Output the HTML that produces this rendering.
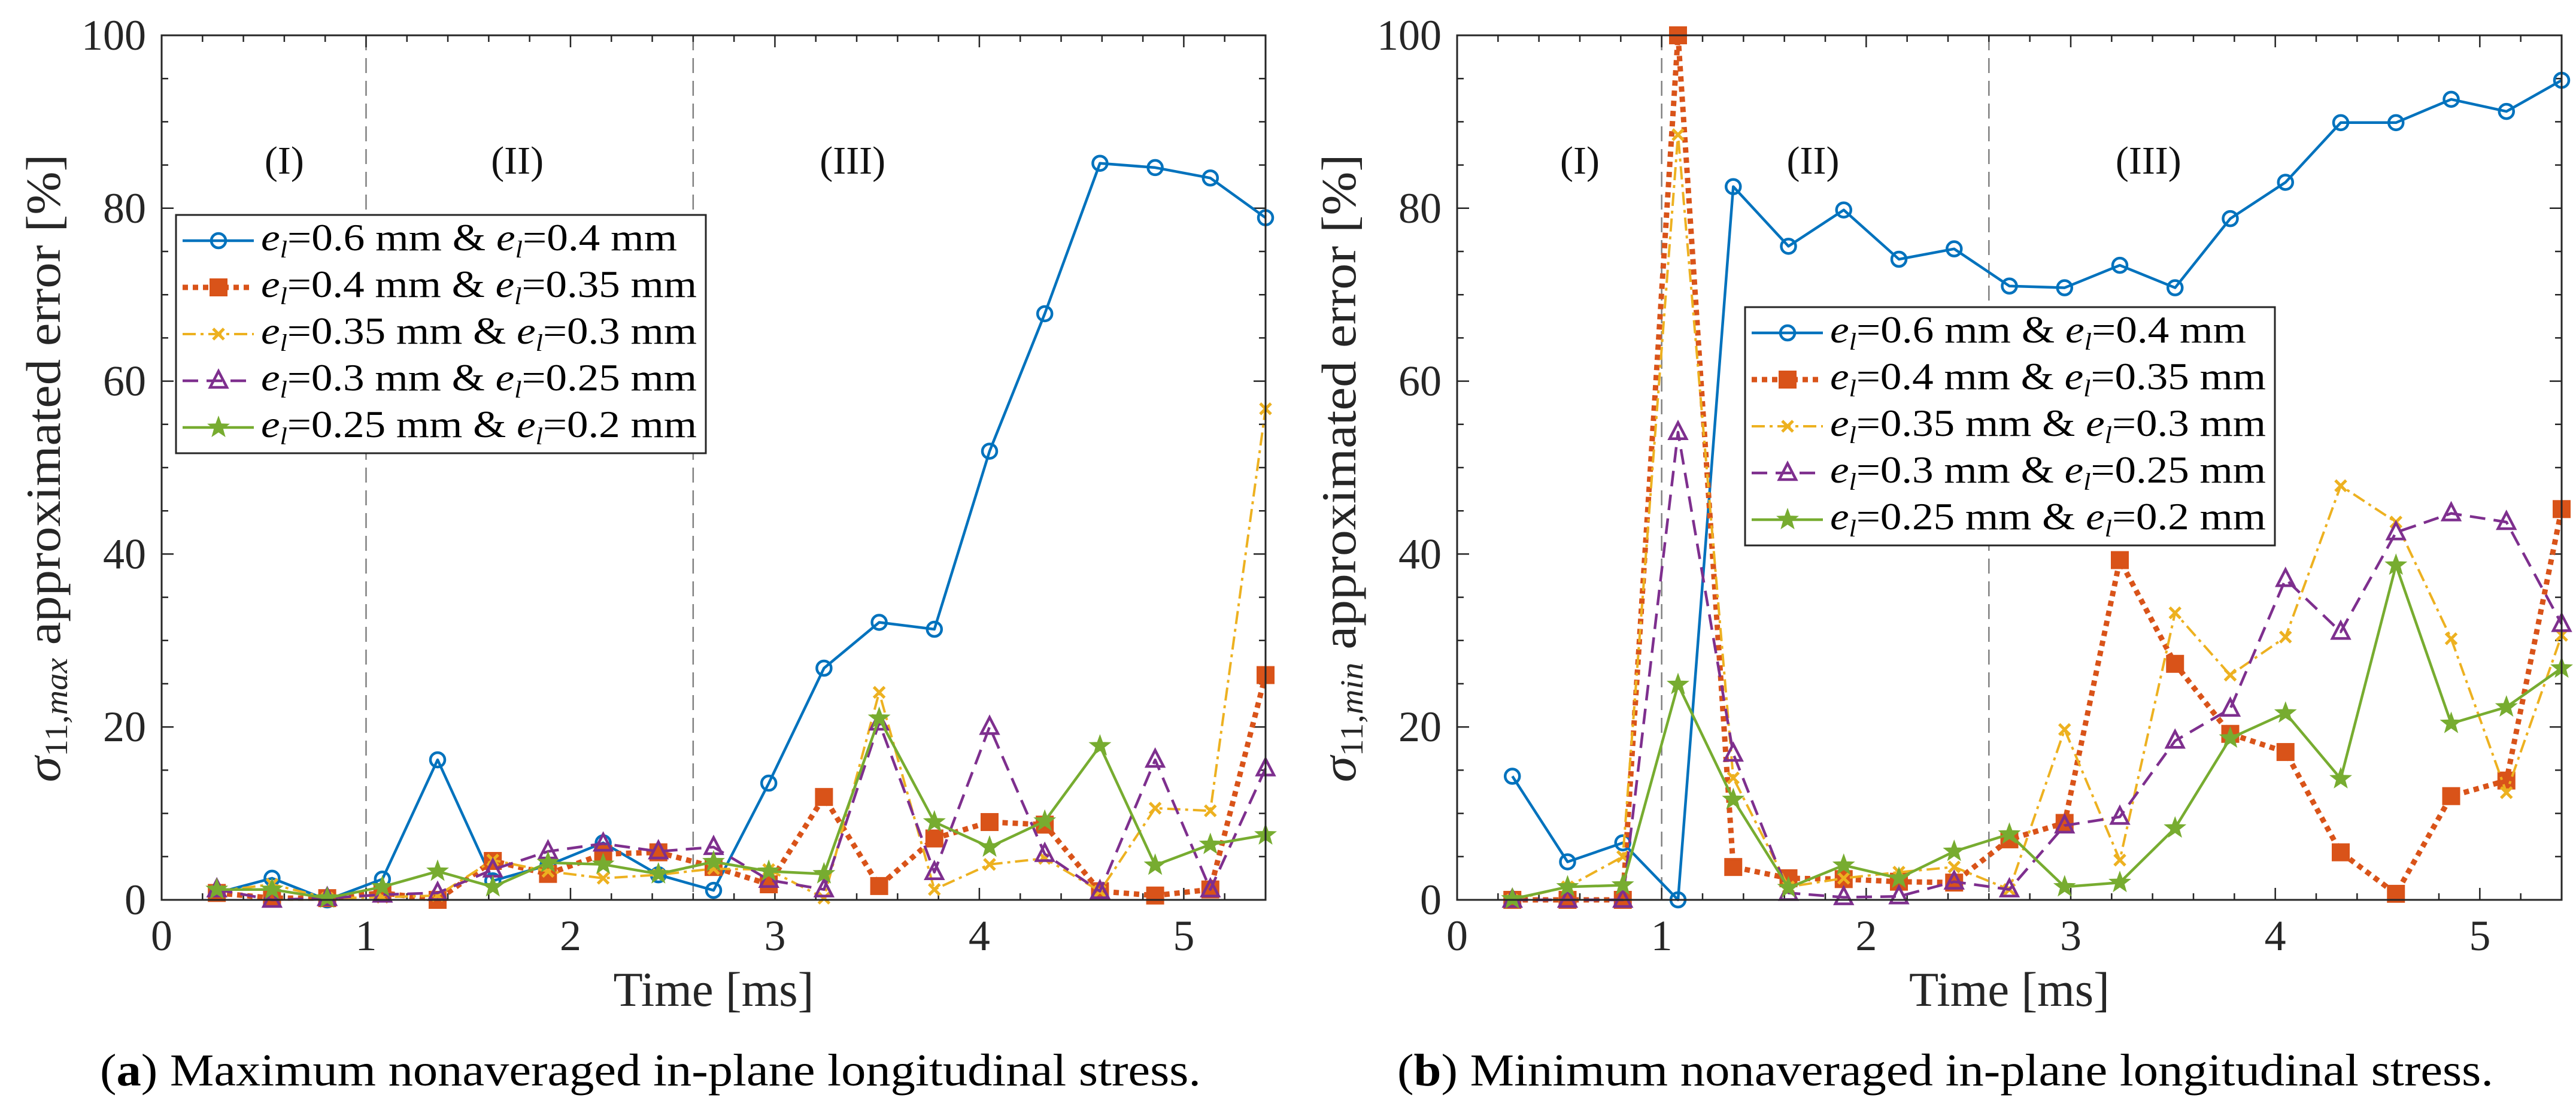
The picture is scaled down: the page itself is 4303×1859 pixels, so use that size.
<!DOCTYPE html>
<html><head><meta charset="utf-8"><style>
html,body{margin:0;padding:0;background:#fff;}
svg{display:block;font-family:"Liberation Serif",serif;}
</style></head><body>
<svg id="fig" width="4303" height="1859" viewBox="0 0 4303 1859" xmlns="http://www.w3.org/2000/svg"></svg>
<script>
const times = [0.27,0.54,0.81,1.08,1.35,1.62,1.89,2.16,2.43,2.7,2.97,3.24,3.51,3.78,4.05,4.32,4.59,4.86,5.13,5.4];
const xTicks = [0,1,2,3,4,5];
const yTicks = [0,20,40,60,80,100];
const regionLines = [1,2.6];
const regionLabels = ["(I)","(II)","(III)"];
const regionX = [0.6,1.74,3.38];
const legendLabels = [["0.6","0.4"],["0.4","0.35"],["0.35","0.3"],["0.3","0.25"],["0.25","0.2"]];
// panel (a) max
const maxA = [0.8,2.5,0,2.4,16.2,2.2,4,6.6,2.9,1.1,13.5,26.8,32.1,31.3,51.9,67.8,85.2,84.7,83.5,78.9];
const maxB = [0.8,0.2,0.2,0.8,0,4.5,3,5.3,5.5,3.8,1.8,11.9,1.6,7.1,9,8.7,1,0.5,1.2,26];
const maxC = [1,1.8,0.2,0.3,0.5,4.6,3.3,2.5,2.9,3.6,3.5,0.2,24,1.2,4.1,4.8,1,10.6,10.3,56.8];
const maxD = [1.2,0,0.2,0.6,0.8,3.5,5.6,6.5,5.6,6.1,2.3,1.2,20.5,3.2,20,5.3,1,16.2,1.2,15.2];
const maxE = [1.2,1.2,0.2,1.5,3.3,1.5,4.3,4.1,3,4.4,3.3,3,21,9,6.1,9.1,17.8,4,6.4,7.5];
// panel (b) min
const minA = [14.3,4.4,6.6,0,82.5,75.6,79.8,74.1,75.3,71,70.8,73.4,70.8,78.8,83,89.9,89.9,92.6,91.2,94.8];
const minB = [0,0,0,100,3.8,2.5,2.4,2.1,2,7,8.9,39.3,27.3,19.2,17.1,5.5,0.7,12,13.8,45.2];
const minC = [0,1.5,5,88.5,14.1,1.5,2.5,3.2,3.8,1.2,19.7,4.6,33.2,26,30.4,47.9,43.7,30.2,12.4,30.6];
const minD = [0,0,0,54.1,16.9,0.8,0.3,0.4,2.1,1.2,8.6,9.6,18.4,22.1,37.1,31,42.5,44.7,43.7,31.9];
const minE = [0.1,1.5,1.7,24.9,11.6,1.4,4,2.5,5.6,7.6,1.5,2,8.3,18.7,21.6,14,38.7,20.4,22.3,26.8];

const NS="http://www.w3.org/2000/svg";
const svg=document.getElementById('fig');
function mk(tag,attrs,parent){const e=document.createElementNS(NS,tag);for(const k in attrs)e.setAttribute(k,attrs[k]);(parent||svg).appendChild(e);return e;}
const styles=[
 {c:"#0072BD",w:4.5,dash:"",m:"circle"},
 {c:"#D95319",w:9,dash:"9,8",m:"square"},
 {c:"#EDB120",w:4,dash:"22,8,5,8",m:"x"},
 {c:"#7E2F8E",w:4.5,dash:"26,14",m:"tri"},
 {c:"#77AC30",w:4.5,dash:"",m:"star"}];
function marker(g,type,x,y,col){
  let e;
  if(type==="circle"){e=mk('circle',{cx:x,cy:y,r:12,fill:"none",stroke:col,"stroke-width":4.5},g);}
  else if(type==="square"){e=mk('rect',{x:x-13,y:y-13,width:26,height:26,fill:col,stroke:col,"stroke-width":4},g);}
  else if(type==="x"){e=mk('path',{d:`M${x-9},${y-9}L${x+9},${y+9}M${x-9},${y+9}L${x+9},${y-9}`,stroke:col,"stroke-width":5,fill:"none"},g);}
  else if(type==="tri"){e=mk('path',{d:`M${x},${y-16}L${x+14},${y+11}L${x-14},${y+11}Z`,stroke:col,"stroke-width":4.5,fill:"none"},g);}
  else {let p="";for(let i=0;i<10;i++){const r=i%2?7:17,a=-Math.PI/2+i*Math.PI/5;p+=(i?"L":"M")+(x+r*Math.cos(a)).toFixed(1)+","+(y+r*Math.sin(a)).toFixed(1);}
    e=mk('path',{d:p+"Z",fill:col,stroke:col,"stroke-width":2},g);}
  return e;
}
function panel(id,L,R,series,ylabSub,legX,legY,capX,capW,capLetter,capText){
  const T=59,B=1503,xmax=5.4;
  const X=v=>L+(R-L)*v/xmax, Y=v=>B-(B-T)*v/100;
  const g=mk('g',{});
  
  
  // region lines
  regionLines.forEach(v=>{const l=mk('line',{x1:X(v),x2:X(v),y1:T,y2:B,stroke:"#808080","stroke-width":2.5,"stroke-dasharray":"25,13"},g);
    });
  regionLabels.forEach((s,i)=>{const t=mk('text',{x:X(regionX[i]),y:290,"text-anchor":"middle","font-size":66,fill:"#111"},g);t.textContent=s;
    });
  // ticks
  let d="";
  for(let v=0;v<=5.4001;v+=0.2){const x=X(v);const maj=Math.abs(v-Math.round(v))<1e-6;const len=maj?20:11;d+=`M${x},${B}v${-len}M${x},${T}v${len}`;}
  for(let v=0;v<=100;v+=5){const y=Y(v);const len=v%20===0?20:11;d+=`M${L},${y}h${len}M${R},${y}h${-len}`;}
  mk('path',{d:d,stroke:"#262626","stroke-width":2.5,fill:"none"},g);
  xTicks.forEach(v=>{const t=mk('text',{x:X(v),y:1587,"text-anchor":"middle","font-size":72,fill:"#262626"},g);t.textContent=v;
    });
  yTicks.forEach(v=>{const t=mk('text',{x:L-26,y:Y(v)+24,"text-anchor":"end","font-size":72,fill:"#262626"},g);t.textContent=v;
    });
  // series
  series.forEach((vals,si)=>{const s=styles[si];
    const sg=mk('g',{},g);
    const pts=vals.map((v,i)=>X(times[i]).toFixed(1)+","+Y(v).toFixed(1)).join(" ");
    const pl=mk('polyline',{points:pts,fill:"none",stroke:s.c,"stroke-width":s.w,"stroke-dasharray":s.dash,"stroke-linejoin":"round"},sg);
    
    vals.forEach((v,i)=>{const m=marker(sg,s.m,X(times[i]),Y(v),s.c);});
  });
  // axes box
  const box=mk('rect',{x:L,y:T,width:R-L,height:B-T,fill:"none",stroke:"#262626","stroke-width":3},g);
  
  // legend
  const lg=mk('g',{},g);
  mk('rect',{x:legX,y:legY,width:885,height:398,fill:"#fff",stroke:"#262626","stroke-width":3},lg);
  legendLabels.forEach((p,i)=>{const s=styles[i];const cy=legY+43+78*i;
    const eg=mk('g',{},lg);
    mk('line',{x1:legX+11,x2:legX+130,y1:cy,y2:cy,stroke:s.c,"stroke-width":s.w,"stroke-dasharray":s.dash},eg);
    marker(eg,s.m,legX+71,cy,s.c);
    const t=mk('text',{x:legX+142,y:cy+16,"font-size":64,fill:"#000",textLength:i===0?695:728,lengthAdjust:"spacingAndGlyphs"},eg);
    t.innerHTML=`<tspan font-style="italic">e</tspan><tspan font-style="italic" font-size="40" dy="12">l</tspan><tspan dy="-12">=${p[0]} mm &amp; </tspan><tspan font-style="italic">e</tspan><tspan font-style="italic" font-size="40" dy="12">l</tspan><tspan dy="-12">=${p[1]} mm</tspan>`;
  });
  // axis labels
  const xl=mk('text',{x:(L+R)/2,y:1680,"text-anchor":"middle","font-size":82,fill:"#262626",textLength:335,lengthAdjust:"spacingAndGlyphs"},g);
  xl.textContent="Time [ms]";
  const ylx=L-170;
  const yl=mk('text',{x:0,y:0,transform:`translate(${ylx},782) rotate(-90)`,"text-anchor":"middle","font-size":82,fill:"#262626",textLength:1049,lengthAdjust:"spacingAndGlyphs"},g);
  yl.innerHTML=`<tspan font-style="italic">σ</tspan><tspan font-size="54" dy="12">11,</tspan><tspan font-size="54" font-style="italic">${ylabSub}</tspan><tspan dy="-12"> approximated error [%]</tspan>`;
  
  const cap=mk('text',{x:capX,y:1813,"font-size":76,fill:"#000",textLength:capW,lengthAdjust:"spacingAndGlyphs"},g);
  cap.innerHTML=`(<tspan font-weight="bold">${capLetter}</tspan>) ${capText}`;
  
}
panel('panel-max',270,2114,[maxA,maxB,maxC,maxD,maxE],'max',294,359,167,1839,'a','Maximum nonaveraged in-plane longitudinal stress.');
panel('panel-min',2434,4279,[minA,minB,minC,minD,minE],'min',2915,513,2334,1831,'b','Minimum nonaveraged in-plane longitudinal stress.');
</script>
</body></html>
